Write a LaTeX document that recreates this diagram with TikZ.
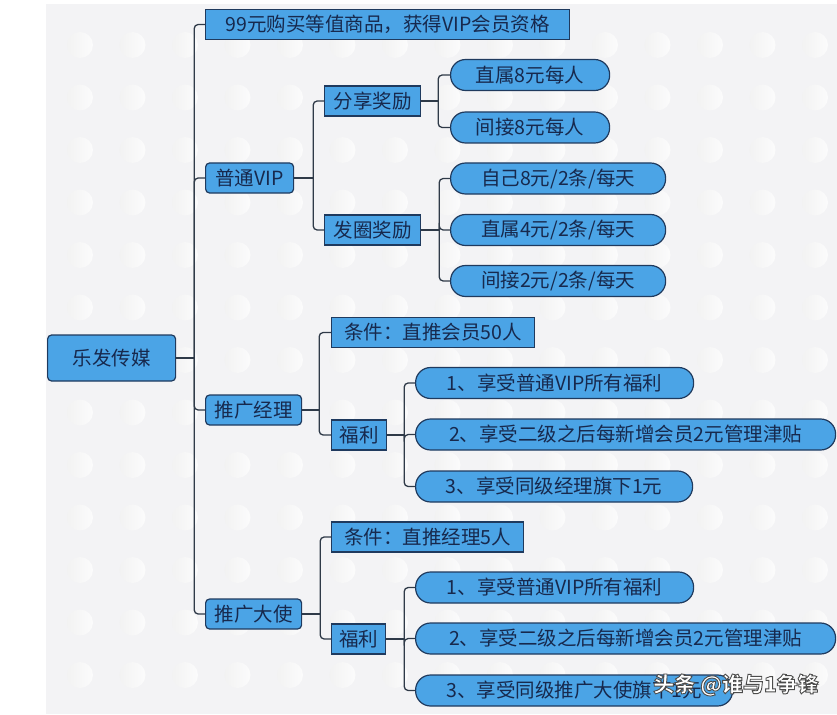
\documentclass[tikz,border=0pt]{standalone}
\usepackage{fontspec}
\setmainfont{Noto Sans CJK SC}
\usetikzlibrary{positioning}
\definecolor{boxblue}{HTML}{4BA4E6}
\definecolor{edgeblue}{HTML}{1F3A5E}
\definecolor{txtblue}{HTML}{17294D}
\definecolor{linegray}{HTML}{2F3A48}
\definecolor{bggray}{HTML}{F3F3F5}
\newcommand{\outlined}[1]{\special{pdf:literal direct 0.3 0.3 0.3 RG 2 Tr 0.9 w}#1\special{pdf:literal direct 0 Tr}}
\tikzset{base node/.style={draw=edgeblue, fill=boxblue, text=txtblue, line width=1.2pt, inner sep=0pt, minimum height=30pt, font=\fontsize{19.5}{19.5}\selectfont, anchor=west},
  root node/.style={base node, rounded corners=4pt, minimum height=46pt},
  main node/.style={base node, rounded corners=4pt},
  box node/.style={base node},
  pill node/.style={base node, rounded corners=15pt, minimum height=31pt},
  link/.style={draw=linegray, line width=1.3pt},
  elbow/.style={rounded corners=4pt, to path={|- (\tikztotarget)}},}

\begin{document}
\begin{tikzpicture}[x=1pt, y=-1pt]
        \useasboundingbox (0,0) rectangle (837,714);
        % Background
        \fill[bggray] (46,4) rectangle (837,714);
        \foreach \i in {0,...,14}
          \foreach \j in {0,...,12}
            \shade[left color=black!5, right color=white!70!bggray] (80+52.5*\i, 45+52.5*\j) circle (13);
        % Nodes
        \node[root node, minimum width=128pt] (root) at (47,358) {乐发传媒};
        \node[box node, minimum width=364pt] (buy) at (205,24.5) {99元购买等值商品，获得VIP会员资格};
        \node[main node, minimum width=88pt] (vip) at (205,178) {普通VIP};
        \node[main node, minimum width=96pt] (mgr) at (205,410) {推广经理};
        \node[main node, minimum width=96pt] (amb) at (205,614) {推广大使};
        % VIP
        \node[box node, minimum width=96pt] (share) at (324,101) {分享奖励};
        \node[box node, minimum width=96pt] (post) at (324,230) {发圈奖励};
        \node[pill node, minimum width=159pt] (s1) at (450,75) {直属8元每人};
        \node[pill node, minimum width=159pt] (s2) at (450,127.5) {间接8元每人};
        \node[pill node, minimum width=215pt] (p1) at (450,178.5) {自己8元/2条/每天};
        \node[pill node, minimum width=215pt] (p2) at (450,230) {直属4元/2条/每天};
        \node[pill node, minimum width=215pt] (p3) at (450,281) {间接2元/2条/每天};
        % manager
        \node[box node, minimum width=203pt] (mreq) at (331,332.5) {条件：直推会员50人};
        \node[box node, minimum width=55pt] (mben) at (331,435) {福利};
        \node[pill node, minimum width=278pt] (m1) at (415,383) {1、享受普通VIP所有福利};
        \node[pill node, minimum width=420pt] (m2) at (415,434.5) {2、享受二级之后每新增会员2元管理津贴};
        \node[pill node, minimum width=277pt] (m3) at (415,486.5) {3、享受同级经理旗下1元};
        % ambassador
        \node[box node, minimum width=192pt] (areq) at (331,537) {条件：直推经理5人};
        \node[box node, minimum width=54pt] (aben) at (331,639) {福利};
        \node[pill node, minimum width=278pt] (a1) at (415,587.5) {1、享受普通VIP所有福利};
        \node[pill node, minimum width=420pt] (a2) at (415,638.5) {2、享受二级之后每新增会员2元管理津贴};
        \node[pill node, minimum width=317pt] (a3) at (415,690.5) {3、享受同级推广大使旗下1元};
        % Branch points
        \coordinate[right=18pt of root] (t0);
        \coordinate[right=19pt of vip] (v0);
        \coordinate[right=17pt of share] (s0);
        \coordinate[right=18pt of post] (p0);
        \coordinate[right=17pt of mgr] (m0);
        \coordinate[right=17pt of mben] (mb0);
        \coordinate[right=18pt of amb] (a0);
        \coordinate[right=18pt of aben] (ab0);
        % Paths
        \path[link]
        (root) edge (t0)
        (t0) edge[elbow] (buy.west)
        (t0) edge[elbow] (vip.west)
        (t0) edge[elbow] (mgr.west)
        (t0) edge[elbow] (amb.west)
        (vip) edge (v0)
        (v0) edge[elbow] (share.west)
        (v0) edge[elbow] (post.west)
        (share) edge (s0)
        (s0) edge[elbow] (s1.west)
        (s0) edge[elbow] (s2.west)
        (post) edge (p0)
        (p0) edge[elbow] (p1.west)
        (p0) edge[elbow] (p2.west)
        (p0) edge[elbow] (p3.west)
        (mgr) edge (m0)
        (m0) edge[elbow] (mreq.west)
        (m0) edge[elbow] (mben.west)
        (mben) edge (mb0)
        (mb0) edge[elbow] (m1.west)
        (mb0) edge[elbow] (m2.west)
        (mb0) edge[elbow] (m3.west)
        (amb) edge (a0)
        (a0) edge[elbow] (areq.west)
        (a0) edge[elbow] (aben.west)
        (aben) edge (ab0)
        (ab0) edge[elbow] (a1.west)
        (ab0) edge[elbow] (a2.west)
        (ab0) edge[elbow] (a3.west);
        % Watermark
        \node[font=\bfseries\fontsize{21}{21}\selectfont, text=white] (mark) at (736,685) {\outlined{头条 @谁与1争锋}};
    \end{tikzpicture}
\end{document}
